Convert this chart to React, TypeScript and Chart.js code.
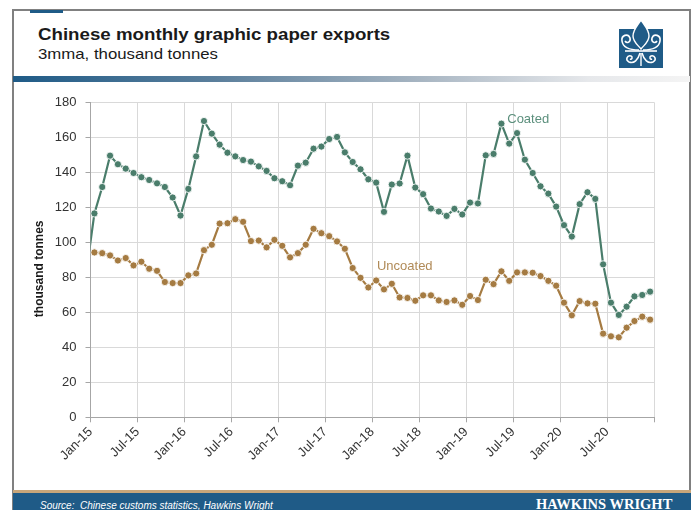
import React, { useEffect, useRef } from "react";
import { Chart, registerables } from "chart.js";

Chart.register(...registerables);

const tickLabels = ["Jan-15", "Jul-15", "Jan-16", "Jul-16", "Jan-17", "Jul-17", "Jan-18", "Jul-18", "Jan-19", "Jul-19", "Jan-20", "Jul-20"];

const coatedDec14 = 84;
const coated = [
  116.5, 131.6, 149.5, 144.6, 142.1, 139.6, 137.2, 135.6, 133.7, 131.6, 125.6, 115.3,
  130.5, 149.1, 169.3, 162.1, 155.8, 151.2, 149.1, 147.0, 146.1, 143.4, 140.8, 136.6,
  134.9, 132.6, 143.8, 145.5, 153.5, 154.7, 159.0, 160.2, 151.4, 145.9, 141.7, 136.0,
  134.1, 117.4, 133.0, 133.6, 149.5, 131.3, 127.5, 119.3, 117.6, 115.1, 119.1, 115.9,
  122.7, 122.2, 149.7, 150.5, 167.8, 156.4, 162.4, 147.2, 139.6, 132.0, 127.8, 120.4,
  109.8, 103.3, 121.8, 128.6, 124.8, 87.4, 65.5, 58.5, 63.2, 69.1, 69.9, 71.8,
];
const uncoated = [
  94.2, 93.8, 92.5, 89.6, 91.0, 86.8, 88.9, 84.9, 83.7, 77.3, 76.7, 76.7,
  81.1, 82.2, 95.5, 98.6, 110.7, 110.9, 113.2, 111.7, 100.7, 101.0, 97.1, 101.4,
  98.0, 91.4, 93.8, 98.6, 107.7, 105.2, 103.5, 100.5, 96.3, 85.3, 79.7, 74.2,
  78.2, 73.1, 76.3, 68.5, 68.2, 66.6, 69.7, 69.7, 66.8, 65.9, 66.8, 64.3,
  69.3, 67.0, 78.6, 76.1, 83.4, 78.0, 82.8, 82.8, 82.6, 80.7, 78.0, 75.2,
  65.5, 58.3, 66.4, 65.1, 64.9, 47.8, 46.3, 45.7, 51.2, 55.0, 57.5, 55.8,
];

const GREEN = "#4a7d6b";
const BROWN = "#a57b42";
const NAVY = "#1f5b87";
const FONT = '"Liberation Sans", Arial, sans-serif';

const txt = (extra: React.CSSProperties): React.CSSProperties => ({
  position: "absolute",
  lineHeight: 1,
  whiteSpace: "nowrap",
  transformOrigin: "left center",
  margin: 0,
  ...extra,
});

export default function App() {
  const ref = useRef<HTMLCanvasElement>(null);

  useEffect(() => {
    const canvas = ref.current;
    if (!canvas) return;
    const coatedPts = [{ x: -0.5, y: coatedDec14 }, ...coated.map((v, i) => ({ x: i + 0.5, y: v }))];
    const uncoatedPts = uncoated.map((v, i) => ({ x: i + 0.5, y: v }));

    const labelPlugin = {
      id: "seriesLabels",
      afterDatasetsDraw(chart: any) {
        const { ctx, scales, chartArea } = chart;
        const x = scales.x;
        const y = scales.y;
        ctx.save();
        ctx.font = `13px ${FONT}`;
        ctx.textAlign = "left";
        ctx.textBaseline = "middle";
        ctx.fillStyle = "#5b8f7c";
        ctx.fillText("Coated", x.getPixelForValue(53.25), y.getPixelForValue(170));
        ctx.fillStyle = "#b08a57";
        ctx.fillText("Uncoated", x.getPixelForValue(36.6), y.getPixelForValue(86.3));
        ctx.translate(40, (chartArea.top + chartArea.bottom) / 2 + 9);
        ctx.rotate(-Math.PI / 2);
        ctx.font = `bold 12px ${FONT}`;
        ctx.textAlign = "center";
        ctx.fillStyle = "#1a1a1a";
        ctx.fillText("thousand tonnes", 0, 0);
        ctx.restore();
      },
    };

    const pr = (c: any) => (c.raw && c.raw.x < 0 ? 0 : 3.6);

    const chart = new Chart(canvas, {
      type: "line",
      data: {
        datasets: [
          {
            label: "Coated",
            data: coatedPts,
            borderColor: GREEN,
            backgroundColor: GREEN,
            pointBackgroundColor: GREEN,
            pointBorderColor: "rgba(255,255,255,0.85)",
            pointBorderWidth: 1,
            pointRadius: pr,
            borderWidth: 2.2,
            tension: 0,
          },
          {
            label: "Uncoated",
            data: uncoatedPts,
            borderColor: BROWN,
            backgroundColor: BROWN,
            pointBackgroundColor: BROWN,
            pointBorderColor: "rgba(255,255,255,0.85)",
            pointBorderWidth: 1,
            pointRadius: pr,
            borderWidth: 2.2,
            tension: 0,
          },
        ],
      },
      options: {
        responsive: false,
        animation: false,
        events: [],
        layout: { padding: { left: 29, top: 102.3, right: 40, bottom: 0 } },
        plugins: { legend: { display: false }, tooltip: { enabled: false } },
        scales: {
          x: {
            type: "linear",
            min: 0,
            max: 72,
            ticks: {
              stepSize: 6,
              autoSkip: false,
              minRotation: 45,
              maxRotation: 45,
              padding: 2,
              color: "#333",
              font: { size: 13, family: FONT },
              callback: (v: any) => tickLabels[Math.round(Number(v) / 6)] ?? "",
            },
            grid: { color: "#d9d9d9", tickColor: "#a6a6a6", tickLength: 5, lineWidth: 1 },
            border: { color: "#a6a6a6", width: 1 },
            afterFit: (s: any) => {
              s.height = 92.7;
            },
          },
          y: {
            min: 0,
            max: 180,
            ticks: {
              stepSize: 20,
              padding: 9,
              color: "#333",
              font: { size: 13, family: FONT },
            },
            grid: { color: "#d9d9d9", tickColor: "#a6a6a6", tickLength: 5, lineWidth: 1 },
            border: { color: "#a6a6a6", width: 1 },
            afterFit: (s: any) => {
              s.width = 61.5;
            },
          },
        },
      },
      plugins: [labelPlugin],
    } as any);
    return () => chart.destroy();
  }, []);

  return (
    <div
      style={{
        position: "absolute",
        left: 0,
        top: 0,
        width: 694,
        height: 510,
        overflow: "hidden",
        background: "#fff",
        fontFamily: FONT,
      }}
    >
      {/* frame */}
      <div
        style={{
          position: "absolute",
          left: 12,
          top: 9,
          width: 675,
          height: 520,
          borderTop: "2px solid #808080",
          borderLeft: "2px solid #808080",
          borderRight: "2px solid #808080",
        }}
      />
      <div style={{ position: "absolute", left: 30, top: 10, width: 33, height: 3, background: NAVY }} />
      <div style={txt({ left: 38, top: 26, fontSize: 17, fontWeight: "bold", color: "#1a1a1a", transform: "scaleX(1.1)" })}>
        Chinese monthly graphic paper exports
      </div>
      <div style={txt({ left: 38, top: 47.3, fontSize: 14.5, color: "#1a1a1a", transform: "scaleX(1.157)" })}>
        3mma, thousand tonnes
      </div>
      <svg style={{ position: "absolute", left: 619, top: 20 }} width={44} height={48} viewBox="0 0 44 48">
        <rect x={0} y={9} width={44} height={39} fill={NAVY} />
        <path d="M22,0 C26,6 30,10 30,16 C30,22 25,25 22,29 C19,25 14,22 14,16 C14,10 18,6 22,0 Z" fill={NAVY} stroke="#fff" strokeWidth={1.4} />
        <path d="M20,30 C12,30 4,28 3,21 C2,15 9,13 11,18 C12,22 8,24 6,21" fill="none" stroke="#fff" strokeWidth={1.6} />
        <path d="M24,30 C32,30 40,28 41,21 C42,15 35,13 33,18 C32,22 36,24 38,21" fill="none" stroke="#fff" strokeWidth={1.6} />
        <path d="M6,31 L38,31" stroke="#fff" strokeWidth={1.6} />
        <path d="M21,33 C19,40 15,44 10,42 C6,40 8,35 12,36 C14,37 13,40 11,39" fill="none" stroke="#fff" strokeWidth={1.5} />
        <path d="M23,33 C25,40 29,44 34,42 C38,40 36,35 32,36 C30,37 31,40 33,39" fill="none" stroke="#fff" strokeWidth={1.5} />
        <path d="M22,33 L22,46" stroke="#fff" strokeWidth={1.4} />
      </svg>
      <div
        style={{
          position: "absolute",
          left: 13,
          top: 76,
          width: 677,
          height: 6,
          background: "linear-gradient(to right, #1f5b87 0%, #5b7f9c 30%, #a7b5c2 60%, #e6e8eb 85%, #f4f4f4 100%)",
        }}
      />
      <canvas ref={ref} width={694} height={510} style={{ position: "absolute", left: 0, top: 0, width: 694, height: 510 }} />
      <div style={{ position: "absolute", left: 13, top: 490, width: 678, height: 3, background: "#c8a67a" }} />
      <div style={{ position: "absolute", left: 13, top: 493, width: 678, height: 20, background: NAVY }} />
      <div style={txt({ left: 40, top: 500.5, fontSize: 10, fontStyle: "italic", color: "#fff" })}>
        Source:&nbsp; Chinese customs statistics, Hawkins Wright
      </div>
      <div
        style={txt({
          left: 536,
          top: 496.8,
          fontSize: 14.5,
          fontWeight: "bold",
          color: "#fff",
          fontFamily: '"Liberation Serif", "Times New Roman", serif',
        })}
      >
        HAWKINS WRIGHT
      </div>
    </div>
  );
}
